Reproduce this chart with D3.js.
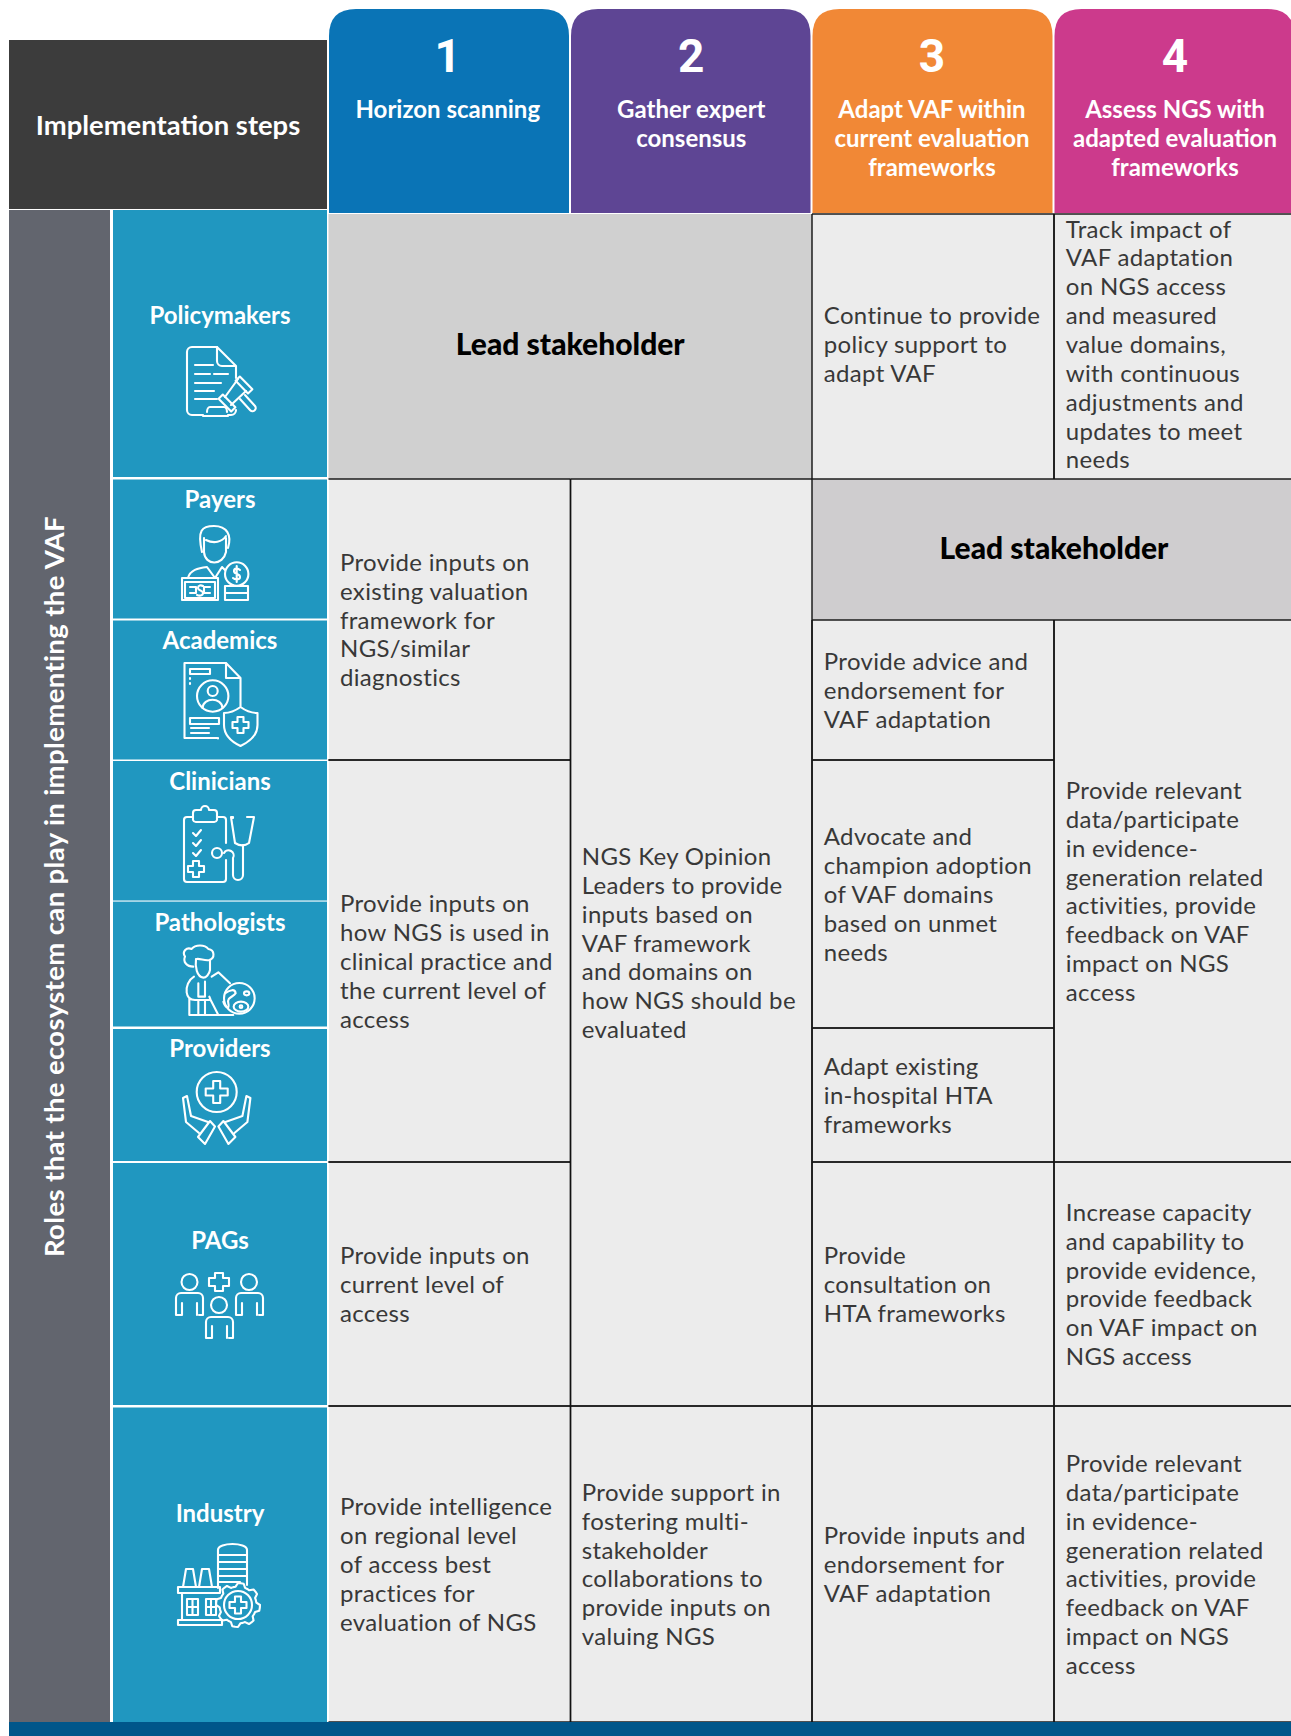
<!DOCTYPE html>
<html lang="en">
<head>
<meta charset="UTF-8">
<title>Implementation steps and roles</title>
<script src="https://d3js.org/d3.v7.min.js"></script>
<style>
    html, body { margin: 0; padding: 0; background: #fff; }
    svg { display: block; }
    text { font-family: Lato, sans-serif; }
    .cell-text { font-size: 24px; fill: #383838; letter-spacing: 0.33px; }
    .step-title { font-size: 24px; font-weight: 700; fill: #fff; }
    .step-num { font-size: 46px; font-weight: 700; fill: #fff; font-family: Roboto, sans-serif; }
    .role-name { font-size: 24px; font-weight: 700; fill: #fff; }
    .lead { font-size: 30px; font-weight: 900; fill: #000; }
    .icon path, .icon circle, .icon rect, .icon ellipse { fill: none; stroke: #fff; stroke-width: 2.1; stroke-linejoin: round; stroke-linecap: round; }
    .icon .zoomed { stroke-width: 6.3; }
</style>
</head>
<body>
<svg id="chart" width="1291" height="1736"></svg>
<script>
const stepNumbers = ["1", "2", "3", "4"];
const stepTitles = [
    ["Horizon scanning"],
    ["Gather expert", "consensus"],
    ["Adapt VAF within", "current evaluation", "frameworks"],
    ["Assess NGS with", "adapted evaluation", "frameworks"]
];
const stepColors = ["#0a74b6", "#5e4594", "#f18836", "#cc3a8c"];
const roles = ["Policymakers", "Payers", "Academics", "Clinicians", "Pathologists", "Providers", "PAGs", "Industry"];

// each cell runs from one role down to another
const scanCells = [
    { from: "Payers", to: "Academics", lines: ["Provide inputs on", "existing valuation", "framework for", "NGS/similar", "diagnostics"] },
    { from: "Clinicians", to: "Providers", lines: ["Provide inputs on", "how NGS is used in", "clinical practice and", "the current level of", "access"] },
    { from: "PAGs", to: "PAGs", lines: ["Provide inputs on", "current level of", "access"] },
    { from: "Industry", to: "Industry", lines: ["Provide intelligence", "on regional level", "of access best", "practices for", "evaluation of NGS"] }
];
const consensusCells = [
    { from: "Payers", to: "PAGs", lines: ["NGS Key Opinion", "Leaders to provide", "inputs based on", "VAF framework", "and domains on", "how NGS should be", "evaluated"] },
    { from: "Industry", to: "Industry", lines: ["Provide support in", "fostering multi-", "stakeholder", "collaborations to", "provide inputs on", "valuing NGS"] }
];
const adaptCells = [
    { from: "Policymakers", to: "Policymakers", lines: ["Continue to provide", "policy support to", "adapt VAF"] },
    { from: "Academics", to: "Academics", lines: ["Provide advice and", "endorsement for", "VAF adaptation"] },
    { from: "Clinicians", to: "Pathologists", lines: ["Advocate and", "champion adoption", "of VAF domains", "based on unmet", "needs"] },
    { from: "Providers", to: "Providers", lines: ["Adapt existing", "in-hospital HTA", "frameworks"] },
    { from: "PAGs", to: "PAGs", lines: ["Provide", "consultation on", "HTA frameworks"] },
    { from: "Industry", to: "Industry", lines: ["Provide inputs and", "endorsement for", "VAF adaptation"] }
];
const assessCells = [
    { from: "Policymakers", to: "Policymakers", lines: ["Track impact of", "VAF adaptation", "on NGS access", "and measured", "value domains,", "with continuous", "adjustments and", "updates to meet", "needs"] },
    { from: "Academics", to: "Providers", lines: ["Provide relevant", "data/participate", "in evidence-", "generation related", "activities, provide", "feedback on VAF", "impact on NGS", "access"] },
    { from: "PAGs", to: "PAGs", lines: ["Increase capacity", "and capability to", "provide evidence,", "provide feedback", "on VAF impact on", "NGS access"] },
    { from: "Industry", to: "Industry", lines: ["Provide relevant", "data/participate", "in evidence-", "generation related", "activities, provide", "feedback on VAF", "impact on NGS", "access"] }
];
const leadCells = [
    { steps: [0, 1], from: "Policymakers", to: "Policymakers", fill: "#d0d0d0" },
    { steps: [2, 3], from: "Payers", to: "Payers", fill: "#cfcdcf" }
];
const leadLabel = "Lead stakeholder";
const cornerLabel = "Implementation steps";
const sideLabel = "Roles that the ecosystem can play in implementing the VAF";

// layout
const colLeft = d3.scaleOrdinal([0, 1, 2, 3], [328.5, 570.5, 812, 1054]);
const colRight = d3.scaleOrdinal([0, 1, 2, 3], [570.5, 812, 1054, 1296]);
const stepCenter = d3.scaleOrdinal([0, 1, 2, 3], [447.8, 691.3, 932, 1175]);
const cellPad = d3.scaleOrdinal([0, 1, 2, 3], [11.5, 11.3, 11.8, 11.8]);
const rowTop = d3.scaleOrdinal(roles, [214, 479, 620, 760, 901, 1028, 1162, 1406]);
const rowBottom = d3.scaleOrdinal(roles, [479, 620, 760, 901, 1028, 1162, 1406, 1722]);
const roleTop = d3.scaleOrdinal(roles, [210, 479.5, 620.5, 761, 901.6, 1029, 1163, 1407.5]);
const roleBottom = d3.scaleOrdinal(roles, [477, 618.5, 759.5, 900.5, 1026.5, 1161, 1405, 1722]);
const roleBaseline = d3.scaleOrdinal(roles, [324, 508, 648.5, 790, 931, 1057, 1249, 1522]);
const lineHeight = 28.85;

const svg = d3.select("#chart");

// corner block and side band
svg.append("rect").attr("x", 9).attr("y", 40).attr("width", 318).attr("height", 169).attr("fill", "#3c3c3c");
svg.append("text").attr("x", 168).attr("y", 134.5).attr("text-anchor", "middle")
    .attr("fill", "#fff").style("font-size", "27.4px").style("font-weight", 700).text(cornerLabel);
svg.append("rect").attr("x", 9).attr("y", 210).attr("width", 101).attr("height", 1512).attr("fill", "#62656e");
svg.append("text").attr("transform", "translate(64,886.5) rotate(-90)").attr("text-anchor", "middle")
    .attr("fill", "#fff").style("font-size", "27.5px").style("font-weight", 700).style("letter-spacing", "0.37px").text(sideLabel);

// step headers, rounded on top only
const stepHead = svg.selectAll(".step").data(stepNumbers).enter().append("g").attr("class", "step");
stepHead.append("path")
    .attr("fill", (d, i) => stepColors[i])
    .attr("d", (d, i) => {
        const x0 = colLeft(i) + 0.5, x1 = colRight(i) - 1.5, r = 27;
        return `M${x0},213 V${9 + r} Q${x0},9 ${x0 + r},9 H${x1 - r} Q${x1},9 ${x1},${9 + r} V213 Z`;
    });
stepHead.append("text").attr("class", "step-num")
    .attr("x", (d, i) => stepCenter(i)).attr("y", 72)
    .attr("text-anchor", "middle").text(d => d);
stepHead.each(function(d, i) {
    d3.select(this).selectAll(".step-title").data(stepTitles[i]).enter().append("text")
        .attr("class", "step-title").attr("text-anchor", "middle")
        .attr("x", stepCenter(i))
        .attr("y", (t, k) => 118 + k * lineHeight)
        .text(t => t);
});

// role blocks
const roleGroup = svg.selectAll(".role").data(roles).enter().append("g").attr("class", "role");
roleGroup.append("rect").attr("x", 113).attr("width", 214)
    .attr("y", d => roleTop(d)).attr("height", d => roleBottom(d) - roleTop(d)).attr("fill", "#2097c0");
roleGroup.append("text").attr("class", "role-name").attr("x", 220).attr("text-anchor", "middle")
    .attr("y", d => roleBaseline(d)).text(d => d);

// cell area
svg.append("rect").attr("x", 329).attr("y", 214).attr("width", 967).attr("height", 1508).attr("fill", "#ececec");

const leadGroup = svg.selectAll(".lead-cell").data(leadCells).enter().append("g").attr("class", "lead-cell");
leadGroup.append("rect")
    .attr("x", d => colLeft(d.steps[0]))
    .attr("y", d => rowTop(d.from))
    .attr("width", d => colRight(d.steps[1]) - colLeft(d.steps[0]))
    .attr("height", d => rowBottom(d.to) - rowTop(d.from))
    .attr("fill", d => d.fill);
leadGroup.append("text").attr("class", "lead").attr("text-anchor", "middle")
    .attr("x", d => (colLeft(d.steps[0]) + colRight(d.steps[1])) / 2)
    .attr("y", d => (rowTop(d.from) + rowBottom(d.to)) / 2 + (d.from === "Policymakers" ? 8 : 9.7))
    .text(leadLabel);

// text cells with a dark rule on their edges
const allCols = [scanCells, consensusCells, adaptCells, assessCells];
allCols.forEach((cells, c) => {
    const g = svg.append("g");
    cells.forEach(cell => {
        const y0 = rowTop(cell.from), y1 = rowBottom(cell.to), x0 = colLeft(c), x1 = colRight(c);
        g.append("path").attr("fill", "none").attr("stroke", "#1c1c1c").attr("stroke-width", 1.4)
            .attr("d", `M${x0},${y0} H${x1} M${x0},${y1} H${x1}`);
        g.append("path").attr("fill", "none").attr("stroke", "#111").attr("stroke-width", 1.4)
            .attr("d", c > 0 ? `M${x0},${y0} V${y1} M${x1},${y0} V${y1}` : `M${x1},${y0} V${y1}`);
        const shift = cell.from === "Policymakers" ? -2.5 : 0;
        const first = (y0 + y1) / 2 - (cell.lines.length - 1) / 2 * lineHeight + 9 + shift;
        g.selectAll(null).data(cell.lines).enter().append("text").attr("class", "cell-text")
            .attr("x", x0 + cellPad(c)).attr("y", (t, k) => first + k * lineHeight).text(t => t);
    });
});

// line icons, drawn in page pixels
const gearPoints = [];
for (let i = 0; i < 48; i++) {
    gearPoints.push([i / 48 * 2 * Math.PI, i % 6 < 3 ? 22 : 18.5]);
}
const gearPath = d3.lineRadial().curve(d3.curveLinearClosed)(gearPoints);

const iconPaths = {
    Policymakers: [
        "M217,347 H192 a5,5 0 0 0 -5,5 V410 a5,5 0 0 0 5,5 H203",
        "M217,347 L236,366 V378 M217,347 V361 a5,5 0 0 0 5,5 H236",
        "M236,410 a5,5 0 0 1 -5,5 H228",
        "M195,365 H213 M195,374 H210 M214,374 H228 M195,383 H221 M195,391 H214 M195,399 H217",
        "M207,412 a3,5 0 0 1 3,-5 H224 a3,5 0 0 1 3,5 M203,416 H228",
        "M248,393.4 L252.4,389.2 L239.8,376.6 L235.6,380.8 Z",
        "M231.2,411.4 L235.4,407.2 L222.8,394.6 L218.6,398.8 Z",
        "M246,391 L231,405 M238,379 L225,397",
        "M240,399 L250,410 a3,3 0 0 0 5,-4 L245,395"
    ],
    Payers: [
        "M202,552 C197,530 202,526 214,526 C227,526 232,535 228,548",
        "M206,540 C214,544 222,542 226,536 M204,538 V552 C205,566 223,566 226,552 V538",
        "M188,578 C190,570 198,568 207,567 L215,578 L222,567 L225,570",
        "M182,578 H218 V600 H182 Z M185,582 H215 V598 H185 Z",
        "M225,586 H248 V600 H225 Z M225,593 H248",
        "M190,587 H196 V593 H190 M210,587 H204 V593 H210"
    ],
    Academics: [
        "M226,663 H184.5 V738 H217 M226,663 L240.5,678 V706 M226,663 V678 H240.5",
        "M190,669 H210 V674 H190 Z M190,678 V679 M190,683 V684",
        "M190,718 H219 V724 H190 Z M191,728 H209 M191,733 H209 M218,738 V738.5",
        "M202.5,708 C203,697 222,697 222.5,708"
    ],
    Clinicians: [
        "M193,817 H187 a3,3 0 0 0 -3,3 V879 a3,3 0 0 0 3,3 H223 a3,3 0 0 0 3,-3 V860",
        "M217,817 H223 a3,3 0 0 1 3,3 V843",
        "M193,813 a3,3 0 0 1 3,-3 H201 a4,4 0 0 1 8,0 H214 a3,3 0 0 1 3,3 V820 a3,3 0 0 1 -3,2 H196 a3,3 0 0 1 -3,-2 Z",
        "M193,833 l3,3 l5,-6 M193,843 l3,3 l5,-6 M193,853 l3,3 l5,-6",
        "M233,818 V817 H231 L235,843 C240,846 245,846 249,843 L254,817 H247",
        "M243,845 V875 a5,5 0 0 1 -10,0 V858 a5,5 0 0 0 -9,-5"
    ],
    Providers: [
        "M183,1098 L186,1122 L199,1133 M183,1098 L187,1096 L191,1116 L208,1122",
        "M198,1137 L205,1144 L215,1126.5 L210,1121 Z",
        "M250.4,1098 L247.4,1122 L234.4,1133 M250.4,1098 L246.4,1096 L242.4,1116 L225.4,1122",
        "M235.4,1137 L228.4,1144 L218.4,1126.5 L223.4,1121 Z"
    ],
    PAGs: [
        "M180,1315 H176 V1298 a5,5 0 0 1 5,-5 H198 a5,5 0 0 1 5,5 V1315 H199 M182,1303 V1315 H180 M197,1303 V1315",
        "M240,1315 H236 V1298 a5,5 0 0 1 5,-5 H258 a5,5 0 0 1 5,5 V1315 H259 M242,1303 V1315 H240 M257,1303 V1315",
        "M210,1338 H206 V1322 a5,5 0 0 1 5,-5 H228 a5,5 0 0 1 5,5 V1338 H229 M212,1326 V1338 H210 M227,1326 V1338",
        "M215,1273 h8 v5 h6 v8 h-6 v5 h-8 v-5 h-6 v-8 h6 Z"
    ],
    Industry: [
        "M218,1588 V1550 C218,1542 247,1542 247,1550 V1585",
        "M218,1555 H247 M218,1562 H247 M218,1569 H247 M218,1576 H247 M218,1582 H240",
        "M183,1587 L186,1569 H193 L196,1587 M199,1587 L202,1569 H209 L212,1587",
        "M178,1587 H220 V1593 H178 Z M182,1593 V1620 M178,1620 H222 V1625 H178 Z",
        "M187,1599 H198 V1615 H187 Z M192.5,1599 V1615 M187,1607 H198",
        "M206,1599 H216 V1615 H206 Z M211,1599 V1615 M206,1607 H216"
    ]
};
const iconCircles = {
    Academics: [[212.7, 696, 15.7], [212.7, 691, 5]],
    Payers: [[236.7, 574, 11.7]],
    Clinicians: [[217, 853, 5]],
    Providers: [[216.7, 1092, 20]],
    PAGs: [[189.5, 1282, 8], [249, 1282, 8], [219, 1305, 8]],
    Industry: [[238, 1605, 14]]
};
const iconCrosses = {
    Academics: [240.5, 725, 8, 3],
    Clinicians: [196, 869, 8, 3],
    Providers: [216.7, 1092, 11, 3.5],
    Industry: [238, 1605, 8.5, 3]
};
const crossPath = ([x, y, a, b]) =>
    `M${x - b},${y - a} h${2 * b} v${a - b} h${a - b} v${2 * b} h${b - a} v${a - b} h${-2 * b} v${b - a} h${b - a} v${-2 * b} h${a - b} Z`;

const icons = svg.selectAll(".icon").data(roles).enter().append("g").attr("class", "icon");
icons.each(function(role) {
    const g = d3.select(this);
    (iconPaths[role] || []).forEach(d => g.append("path").attr("d", d));
    (iconCircles[role] || []).forEach(c => g.append("circle").attr("cx", c[0]).attr("cy", c[1]).attr("r", c[2]));
    if (iconCrosses[role]) g.append("path").attr("d", crossPath(iconCrosses[role]));
});
// shield on the academics icon and the cog on the industry icon
d3.select(icons.nodes()[2]).append("path")
    .attr("d", "M240.5,707 C235,711 229,713 224,713 V725 C224,736 232,742 240.5,746 C249,742 257.5,736 257.5,725 V713 C252,713 246,711 240.5,707 Z");
d3.select(icons.nodes()[7]).append("path").attr("transform", "translate(238,1605)").attr("d", gearPath);

// pathologist and globe, traced at three times size
const pathologist = d3.select(icons.nodes()[4]).append("g").attr("transform", "translate(170,935) scale(0.3333)");
[
    "M70,95 C50,95 38,80 45,65 C35,50 50,35 65,42 C75,28 105,28 115,42 C135,45 135,70 118,75 C105,78 90,70 80,72",
    "M78,72 C75,95 80,125 100,128 C108,128 118,118 120,105 V75",
    "M72,125 C55,135 48,155 50,172 C52,188 62,195 75,195 H118 M58,192 V240 H190",
    "M85,145 V185 H105 V140 M85,195 V240 M105,195 V240",
    "M125,125 L145,112 L180,145",
    "M118,185 L122,195 L145,240",
    "M165,175 C180,165 195,160 197,175 C190,187 170,185 175,205 C180,225 165,218 160,200"
].forEach(d => pathologist.append("path").attr("class", "zoomed").attr("d", d));
pathologist.append("circle").attr("class", "zoomed").attr("cx", 208).attr("cy", 190).attr("r", 46);
pathologist.append("ellipse").attr("class", "zoomed").attr("cx", 213).attr("cy", 215).attr("rx", 22).attr("ry", 15);
pathologist.append("circle").attr("class", "zoomed").attr("cx", 213).attr("cy", 215).attr("r", 4);
pathologist.append("ellipse").attr("class", "zoomed").attr("cx", 230).attr("cy", 175).attr("rx", 8).attr("ry", 6);

// money sign on payers
d3.select(icons.nodes()[1]).append("path")
    .attr("d", "M240,570 C238,568 234,568 234,571 C234,575 240,573 240,577 C240,580 235,580 233,578 M236.7,566 V582 M203,586 C201,585 198,585 198,588 C198,591 203,590 203,593 C203,596 199,596 197,595");

// bottom band
svg.append("rect").attr("x", 9).attr("y", 1722).attr("width", 1282).attr("height", 14).attr("fill", "#00568a");
</script>
</body>
</html>
